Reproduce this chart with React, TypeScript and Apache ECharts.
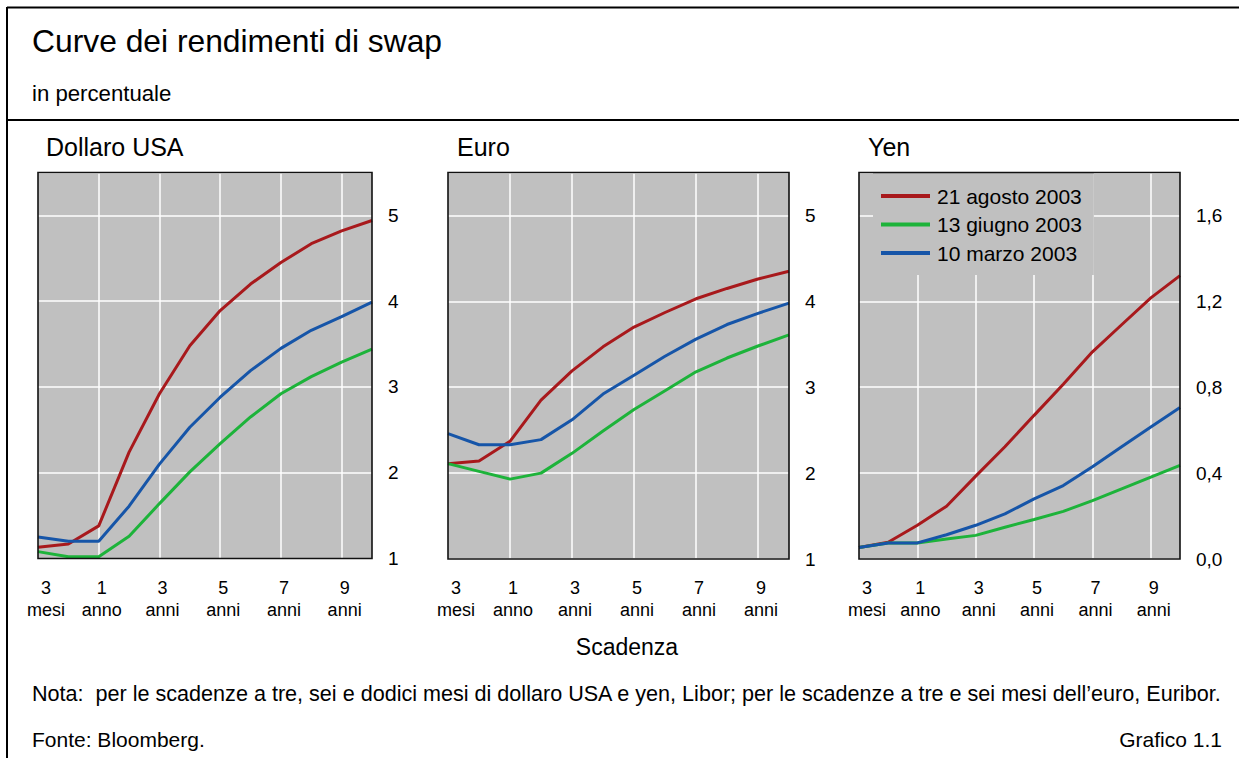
import React, { useEffect, useRef } from "react";
import * as echarts from "echarts";

const categories = [
  "3\nmesi", "6\nmesi", "1\nanno", "2\nanni", "3\nanni", "4\nanni",
  "5\nanni", "6\nanni", "7\nanni", "8\nanni", "9\nanni", "10\nanni",
];
const seriesNames = ["21 agosto 2003", "13 giugno 2003", "10 marzo 2003"];
const panelTitles = ["Dollaro USA", "Euro", "Yen"];

const usdAug = [1.13, 1.17, 1.38, 2.24, 2.92, 3.48, 3.89, 4.2, 4.45, 4.67, 4.82, 4.94];
const usdJun = [1.08, 1.02, 1.02, 1.26, 1.64, 2.01, 2.34, 2.65, 2.92, 3.12, 3.29, 3.44];
const usdMar = [1.25, 1.2, 1.2, 1.61, 2.1, 2.53, 2.88, 3.19, 3.45, 3.66, 3.82, 3.99];

const eurAug = [2.11, 2.14, 2.37, 2.85, 3.19, 3.47, 3.7, 3.87, 4.03, 4.15, 4.26, 4.35];
const eurJun = [2.11, 2.02, 1.93, 2.0, 2.23, 2.49, 2.74, 2.96, 3.18, 3.34, 3.48, 3.61];
const eurMar = [2.46, 2.33, 2.33, 2.39, 2.62, 2.92, 3.14, 3.36, 3.56, 3.73, 3.86, 3.98];

const jpyAug = [0.054, 0.078, 0.157, 0.246, 0.386, 0.523, 0.669, 0.814, 0.965, 1.091, 1.216, 1.32];
const jpyJun = [0.054, 0.075, 0.075, 0.093, 0.11, 0.148, 0.184, 0.222, 0.272, 0.327, 0.381, 0.436];
const jpyMar = [0.054, 0.075, 0.075, 0.113, 0.157, 0.21, 0.28, 0.342, 0.43, 0.523, 0.615, 0.705];

const yRanges = [
  { min: 1, max: 5.5, interval: 1, comma: false },
  { min: 1, max: 5.5, interval: 1, comma: false },
  { min: 0, max: 1.8, interval: 0.4, comma: true },
];

const panelData = [
  [usdAug, usdJun, usdMar],
  [eurAug, eurJun, eurMar],
  [jpyAug, jpyJun, jpyMar],
];

const noteText =
  "Nota:  per le scadenze a tre, sei e dodici mesi di dollaro USA e yen, Libor; per le scadenze a tre e sei mesi dell\u2019euro, Euribor.";

const colors = ["#a8191c", "#1db33a", "#1655a8"];
const FONT = "'Liberation Sans', Arial, Helvetica, sans-serif";

const grids = [
  { left: 38, top: 172.5, width: 334, height: 386 },
  { left: 448, top: 172.5, width: 341, height: 386.5 },
  { left: 859, top: 172.5, width: 321, height: 386.5 },
];

export default function App() {
  const ref = useRef<HTMLDivElement>(null);

  useEffect(() => {
    document.body.style.margin = "0";
    if (!ref.current) return;
    const chart = echarts.init(ref.current, undefined, { renderer: "svg" });

    const xAxes = grids.map((_, g) => ({
      type: "category",
      gridIndex: g,
      data: categories,
      boundaryGap: false,
      axisLine: { show: false },
      axisTick: { show: false },
      axisLabel: {
        interval: (i: number) => i % 2 === 0,
        color: "#000",
        fontSize: 18,
        fontFamily: FONT,
        lineHeight: 22,
        margin: 18,
        formatter: (v: string, i: number) => {
          const parts = v.split("\n");
          const tag = i === 0 ? "f" : "o";
          return parts.map((p) => `{${tag}|${p}}`).join("\n");
        },
        rich: {
          f: { fontSize: 18, fontFamily: FONT, color: "#000", lineHeight: 22, padding: [0, 0, 0, 16] },
          o: { fontSize: 18, fontFamily: FONT, color: "#000", lineHeight: 22, padding: [0, 0, 0, 6] },
        },
      },
      splitLine: {
        show: true,
        interval: (i: number) => i % 2 === 0 && i > 0,
        lineStyle: { color: "#ffffff", width: 1.5 },
      },
    }));

    const yAxes = grids.map((_, g) => ({
      type: "value",
      gridIndex: g,
      position: "right",
      min: yRanges[g].min,
      max: yRanges[g].max,
      interval: yRanges[g].interval,
      axisLine: { show: false },
      axisTick: { show: false },
      axisLabel: {
        color: "#000",
        fontSize: 19,
        fontFamily: FONT,
        margin: 16,
        showMaxLabel: false,
        formatter: (v: number) =>
          yRanges[g].comma ? v.toFixed(1).replace(".", ",") : String(Math.round(v)),
      },
      splitLine: { show: true, lineStyle: { color: "#ffffff", width: 1.5 } },
    }));

    const series: any[] = [];
    panelData.forEach((panel, g) => {
      panel.forEach((data, s) => {
        series.push({
          type: "line",
          name: seriesNames[s],
          xAxisIndex: g,
          yAxisIndex: g,
          data,
          symbol: "none",
          lineStyle: { color: colors[s], width: 3 },
          itemStyle: { color: colors[s] },
        });
      });
    });

    const textEl = (text: string, x: number, y: number, size: number, align = "left") => ({
      type: "text",
      x,
      y,
      z: 20,
      style: {
        text,
        fill: "#000",
        fontSize: size,
        fontFamily: FONT,
        align,
        verticalAlign: "middle",
      },
    });

    // choose the note font size so the line spans 32..1222 as in the reference
    let noteSize = 21.2;
    const canvas = document.createElement("canvas");
    const ctx = canvas.getContext("2d");
    if (ctx) {
      ctx.font = `100px ${FONT}`;
      const w100 = ctx.measureText(noteText).width;
      if (w100 > 0) noteSize = Math.min(22, Math.max(18, (1190 / w100) * 100));
    }

    const borders = grids.map((gr) => ({
      type: "rect",
      z: 15,
      shape: { x: gr.left, y: gr.top, width: gr.width, height: gr.height },
      style: { fill: "none", stroke: "#111", lineWidth: 1.6 },
    }));

    const graphic: any[] = [
      { type: "line", z: 20, shape: { x1: 7, y1: 7.5, x2: 1239, y2: 7.5 }, style: { stroke: "#000", lineWidth: 2 } },
      { type: "line", z: 20, shape: { x1: 7, y1: 7, x2: 7, y2: 758 }, style: { stroke: "#000", lineWidth: 2 } },
      { type: "line", z: 20, shape: { x1: 7, y1: 120, x2: 1239, y2: 120 }, style: { stroke: "#000", lineWidth: 2 } },
      textEl("Curve dei rendimenti di swap", 32, 41, 31.8),
      textEl("in percentuale", 32, 93, 22.2),
      textEl(panelTitles[0], 46, 147, 25),
      textEl(panelTitles[1], 457, 147, 25),
      textEl(panelTitles[2], 868, 147, 25),
      textEl("Scadenza", 627, 647, 23, "center"),
      textEl(noteText, 32, 693, noteSize),
      textEl("Fonte: Bloomberg.", 32, 739, 21),
      textEl("Grafico 1.1", 1222, 739, 21, "right"),
      ...borders,
    ];

    chart.setOption({
      animation: false,
      backgroundColor: "#ffffff",
      grid: grids.map((gr) => ({ ...gr, show: true, backgroundColor: "#c0c0c0", borderWidth: 0 })),
      xAxis: xAxes,
      yAxis: yAxes,
      legend: {
        data: seriesNames,
        orient: "vertical",
        left: 873,
        top: 173,
        backgroundColor: "#c0c0c0",
        padding: [11, 12, 10, 8],
        itemWidth: 49,
        itemHeight: 4,
        itemGap: 4.5,
        icon: "rect",
        selectedMode: false,
        textStyle: { fontSize: 21, color: "#000", fontFamily: FONT, lineHeight: 24, padding: [0, 0, 0, 2] },
        z: 5,
      },
      series,
      graphic,
    });

    return () => chart.dispose();
  }, []);

  return <div ref={ref} style={{ width: 1239, height: 758 }} />;
}
